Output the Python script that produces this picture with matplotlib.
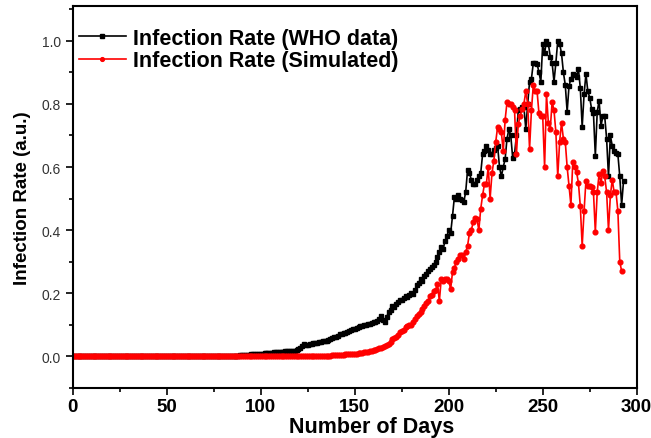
import matplotlib
matplotlib.use("Agg")
import matplotlib.pyplot as plt
from matplotlib.ticker import MultipleLocator

plt.rcParams['font.family'] = ['Liberation Sans', 'DejaVu Sans']

# Infection rate (WHO data), one value per day, day 0 .. 293
who_rate = [
    0.0, 0.0, 0.0, 0.0, 0.0, 0.0, 0.0, 0.0, 0.0, 0.0,
    0.0, 0.0, 0.0, 0.0, 0.0, 0.0, 0.0, 0.0, 0.0, 0.0,
    0.0, 0.0, 0.0, 0.0, 0.0, 0.0, 0.0, 0.0, 0.0, 0.0,
    0.0, 0.0, 0.0, 0.0, 0.0, 0.0, 0.0, 0.0, 0.0, 0.0,
    0.0, 0.0, 0.0, 0.0, 0.0, 0.0, 0.0, 0.0, 0.0, 0.0,
    0.0, 0.0, 0.0, 0.0, 0.0, 0.0, 0.0, 0.0, 0.0, 0.0,
    0.0, 0.0, 0.0, 0.0, 0.0, 0.0, 0.0, 0.0, 0.0, 0.0,
    0.0, 0.0, 0.0, 0.0, 0.0, 0.0, 0.0, 0.0, 0.0, 0.0,
    0.0, 0.0, 0.0, 0.0, 0.0, 0.001, 0.001, 0.002, 0.002, 0.003,
    0.003, 0.004, 0.004, 0.005, 0.005, 0.006, 0.006, 0.007, 0.007, 0.008,
    0.009, 0.009, 0.010, 0.010, 0.011, 0.012, 0.012, 0.013, 0.013, 0.014,
    0.014, 0.015, 0.015, 0.016, 0.016, 0.017, 0.016, 0.018, 0.017, 0.019,
    0.022, 0.027, 0.033, 0.038, 0.035, 0.037, 0.040, 0.039, 0.042, 0.043,
    0.044, 0.046, 0.045, 0.048, 0.050, 0.049, 0.053, 0.054, 0.058, 0.060,
    0.063, 0.066, 0.070, 0.071, 0.074, 0.075, 0.078, 0.080, 0.083, 0.086,
    0.088, 0.090, 0.093, 0.095, 0.097, 0.098, 0.100, 0.103, 0.104, 0.106,
    0.108, 0.110, 0.113, 0.119, 0.127, 0.115, 0.110, 0.125, 0.140, 0.148,
    0.160, 0.158, 0.165, 0.172, 0.178, 0.180, 0.185, 0.190, 0.188, 0.196,
    0.200, 0.198, 0.210, 0.225, 0.232, 0.245, 0.240, 0.255, 0.262, 0.270,
    0.276, 0.283, 0.290, 0.300, 0.315, 0.330, 0.345, 0.340, 0.365, 0.380,
    0.400, 0.390, 0.445, 0.505, 0.500, 0.510, 0.500, 0.495, 0.490, 0.520,
    0.590, 0.580, 0.560, 0.545, 0.545, 0.560, 0.570, 0.580, 0.640, 0.650,
    0.667, 0.655, 0.640, 0.640, 0.655, 0.660, 0.667, 0.600, 0.570, 0.600,
    0.625, 0.690, 0.720, 0.700, 0.630, 0.640, 0.700, 0.780, 0.785, 0.790,
    0.790, 0.720, 0.800, 0.870, 0.880, 0.930, 0.930, 0.927, 0.900, 0.870,
    0.990, 0.960, 1.000, 0.990, 0.950, 0.930, 0.870, 0.930, 1.000, 0.990,
    0.960, 0.900, 0.860, 0.775, 0.857, 0.880, 0.895, 0.890, 0.886, 0.910,
    0.850, 0.727, 0.830, 0.895, 0.840, 0.820, 0.784, 0.770, 0.635, 0.775,
    0.810, 0.730, 0.760, 0.760, 0.690, 0.570, 0.700, 0.667, 0.650, 0.645,
    0.640, 0.570, 0.480, 0.556,
]

# Infection rate (simulated), one value per day, day 0 .. 292
sim_rate = [
    0.0, 0.0, 0.0, 0.0, 0.0, 0.0, 0.0, 0.0, 0.0, 0.0,
    0.0, 0.0, 0.0, 0.0, 0.0, 0.0, 0.0, 0.0, 0.0, 0.0,
    0.0, 0.0, 0.0, 0.0, 0.0, 0.0, 0.0, 0.0, 0.0, 0.0,
    0.0, 0.0, 0.0, 0.0, 0.0, 0.0, 0.0, 0.0, 0.0, 0.0,
    0.0, 0.0, 0.0, 0.0, 0.0, 0.0, 0.0, 0.0, 0.0, 0.0,
    0.0, 0.0, 0.0, 0.0, 0.0, 0.0, 0.0, 0.0, 0.0, 0.0,
    0.0, 0.0, 0.0, 0.0, 0.0, 0.0, 0.0, 0.0, 0.0, 0.0,
    0.0, 0.0, 0.0, 0.0, 0.0, 0.0, 0.0, 0.0, 0.0, 0.0,
    0.0, 0.0, 0.0, 0.0, 0.0, 0.0, 0.0, 0.0, 0.0, 0.0,
    0.0, 0.0, 0.0, 0.0, 0.0, 0.0, 0.0, 0.0, 0.0, 0.0,
    0.0, 0.0, 0.0, 0.0, 0.0, 0.0, 0.0, 0.0, 0.0, 0.0,
    0.0, 0.0, 0.0, 0.0, 0.0, 0.0, 0.0, 0.0, 0.0, 0.0,
    0.0, 0.0, 0.0, 0.0, 0.0, 0.0, 0.0, 0.0, 0.0, 0.0,
    0.0, 0.0, 0.001, 0.001, 0.001, 0.002, 0.002, 0.002, 0.003, 0.003,
    0.003, 0.004, 0.004, 0.005, 0.005, 0.006, 0.006, 0.007, 0.007, 0.008,
    0.009, 0.009, 0.010, 0.011, 0.012, 0.013, 0.014, 0.015, 0.016, 0.018,
    0.019, 0.020, 0.022, 0.025, 0.028, 0.030, 0.033, 0.036, 0.040, 0.045,
    0.054, 0.058, 0.062, 0.068, 0.076, 0.080, 0.085, 0.092, 0.095, 0.098,
    0.100, 0.110, 0.118, 0.127, 0.135, 0.140, 0.150, 0.160, 0.170, 0.175,
    0.190, 0.195, 0.206, 0.210, 0.230, 0.175, 0.245, 0.240, 0.245, 0.245,
    0.240, 0.213, 0.267, 0.280, 0.300, 0.310, 0.320, 0.320, 0.310, 0.330,
    0.350, 0.390, 0.400, 0.425, 0.440, 0.435, 0.400, 0.467, 0.510, 0.546,
    0.546, 0.600, 0.500, 0.580, 0.620, 0.680, 0.727, 0.720, 0.710, 0.650,
    0.750, 0.805, 0.800, 0.800, 0.790, 0.780, 0.640, 0.737, 0.760, 0.785,
    0.800, 0.840, 0.800, 0.657, 0.780, 0.860, 0.840, 0.840, 0.770, 0.760,
    0.760, 0.600, 0.830, 0.740, 0.720, 0.806, 0.780, 0.710, 0.570, 0.680,
    0.740, 0.690, 0.680, 0.600, 0.540, 0.480, 0.615, 0.600, 0.584, 0.550,
    0.476, 0.350, 0.460, 0.556, 0.540, 0.540, 0.537, 0.520, 0.394, 0.520,
    0.578, 0.550, 0.587, 0.570, 0.520, 0.400, 0.510, 0.560, 0.520, 0.520,
    0.460, 0.300, 0.270,
]

who_days = list(range(len(who_rate)))
sim_days = list(range(len(sim_rate)))

fig = plt.figure(figsize=(6.51, 4.39), dpi=100)
ax = fig.add_axes([0.112, 0.114, 0.866, 0.870])

ax.plot(who_days, who_rate, color='black', marker='s', markersize=3.2,
        linewidth=1.2, label='Infection Rate (WHO data)')
ax.plot(sim_days, sim_rate, color='red', marker='o', markersize=3.4,
        linewidth=1.2, label='Infection Rate (Simulated)')

ax.set_xlim(0, 300)
ax.set_ylim(-0.1, 1.11)
ax.xaxis.set_major_locator(MultipleLocator(50))
ax.xaxis.set_minor_locator(MultipleLocator(25))
ax.yaxis.set_major_locator(MultipleLocator(0.2))
ax.yaxis.set_minor_locator(MultipleLocator(0.1))
ax.yaxis.set_major_formatter(matplotlib.ticker.FormatStrFormatter('%.1f'))

ax.tick_params(axis='both', which='major', direction='out', length=5, width=1.2)
ax.tick_params(axis='both', which='minor', direction='out', length=3, width=1.2)
ax.tick_params(axis='x', labelsize=13.5, pad=2)
ax.tick_params(axis='y', labelsize=10, labelcolor='#333333')
for lab in ax.get_xticklabels():
    lab.set_fontweight('bold')
for sp in ax.spines.values():
    sp.set_linewidth(1.5)

ax.set_xlabel('Number of Days', fontsize=15.5, fontweight='bold', labelpad=1)
ax.xaxis.label.set_x(0.53)
ax.set_ylabel('Infection Rate (a.u.)', fontsize=13.5, fontweight='bold', labelpad=8)

ax.legend(loc='upper left', bbox_to_anchor=(-0.005, 0.965), frameon=False,
          prop={'weight': 'bold', 'size': 15.5},
          handlelength=2.2, handletextpad=0.3, borderaxespad=0.0,
          labelspacing=0.05, markerscale=0.8)

fig.savefig('out.png', dpi=100)
